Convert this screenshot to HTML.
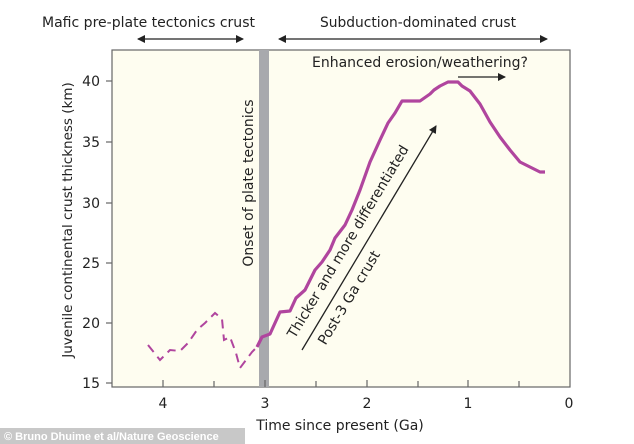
<!DOCTYPE html>
<html><head><meta charset="utf-8"><style>
body{margin:0;background:#fff;}
svg{display:block;font-family:"DejaVu Sans","Liberation Sans",sans-serif;}
</style></head><body>
<svg width="634" height="444" viewBox="0 0 634 444" xmlns="http://www.w3.org/2000/svg">
<defs>
<marker id="ah" markerWidth="8" markerHeight="8" refX="7" refY="4" orient="auto" markerUnits="userSpaceOnUse"><path d="M0,0 L8,4 L0,8 Z" fill="#222"/></marker>
<marker id="at" markerWidth="8" markerHeight="8" refX="1" refY="4" orient="auto" markerUnits="userSpaceOnUse"><path d="M8,0 L0,4 L8,8 Z" fill="#222"/></marker>
</defs>
<rect x="112" y="50" width="458" height="337" fill="#fefdf0" stroke="#666" stroke-width="1.2"/>
<rect x="259" y="50" width="10" height="337" fill="#a8a9ad"/>
<text x="42" y="27" font-size="14" fill="#222" textLength="213" lengthAdjust="spacingAndGlyphs">Mafic pre-plate tectonics crust</text>
<text x="320" y="27" font-size="14" fill="#222" textLength="196" lengthAdjust="spacingAndGlyphs">Subduction-dominated crust</text>
<line x1="138" y1="39" x2="243" y2="39" stroke="#222" stroke-width="1.3" marker-start="url(#at)" marker-end="url(#ah)"/>
<line x1="279" y1="39" x2="547" y2="39" stroke="#222" stroke-width="1.3" marker-start="url(#at)" marker-end="url(#ah)"/>
<text x="312" y="67" font-size="14" fill="#222" textLength="216" lengthAdjust="spacingAndGlyphs">Enhanced erosion/weathering?</text>
<line x1="458" y1="77" x2="505" y2="77" stroke="#222" stroke-width="1.3" marker-end="url(#ah)"/>
<g font-size="14" fill="#222" text-anchor="end">
<text x="100" y="388">15</text><text x="100" y="328">20</text><text x="100" y="268">25</text>
<text x="100" y="208">30</text><text x="100" y="147">35</text><text x="100" y="86">40</text>
</g>
<g stroke="#666" stroke-width="1.2">
<line x1="112" y1="383" x2="106" y2="383"/><line x1="112" y1="323" x2="106" y2="323"/><line x1="112" y1="263" x2="106" y2="263"/>
<line x1="112" y1="203" x2="106" y2="203"/><line x1="112" y1="142" x2="106" y2="142"/><line x1="112" y1="81" x2="106" y2="81"/>
<line x1="163" y1="387" x2="163" y2="380"/><line x1="214" y1="387" x2="214" y2="381"/><line x1="265" y1="387" x2="265" y2="380"/>
<line x1="316" y1="387" x2="316" y2="381"/><line x1="367" y1="387" x2="367" y2="380"/><line x1="418" y1="387" x2="418" y2="381"/>
<line x1="468" y1="387" x2="468" y2="380"/><line x1="519" y1="387" x2="519" y2="381"/>
</g>
<g font-size="14" fill="#222" text-anchor="middle">
<text x="163" y="408">4</text><text x="265" y="408">3</text><text x="367" y="408">2</text><text x="468" y="408">1</text><text x="569" y="408">0</text>
<text x="340" y="430">Time since present (Ga)</text>
</g>
<text transform="translate(72,220) rotate(-90)" font-size="13.5" fill="#222" text-anchor="middle">Juvenile continental crust thickness (km)</text>
<text transform="translate(253,183) rotate(-90)" font-size="14" fill="#222" text-anchor="middle">Onset of plate tectonics</text>
<polyline fill="none" stroke="#b0459e" stroke-width="2" stroke-dasharray="9,6" points="148,345 160,360 170,350 180,351 188,343 197,330 205,323 215,313 222,319 224,340 230,337 236,353 240,368 246,360 252,352 257,347"/>
<polyline fill="none" stroke="#b0459e" stroke-width="3.2" stroke-linejoin="round" points="257,347 262,337 270,334 280,312 290,311 296,298 305,290 310,280 315,270 322,262 330,250 335,238 345,225 352,210 360,190 370,162 380,140 388,123 395,113 402,101 420,101 430,94 434,90 440,86 448,82 458,82 462,86 470,91 480,104 490,122 500,137 510,150 520,162 530,167 540,172 545,172"/>
<line x1="302" y1="350" x2="436" y2="126" stroke="#222" stroke-width="1.3" marker-end="url(#ah)"/>
<text transform="translate(352,244) rotate(-59)" font-size="14" fill="#222" text-anchor="middle">Thicker and more differentiated</text>
<text transform="translate(353,300) rotate(-59)" font-size="14" fill="#222" text-anchor="middle">Post-3 Ga crust</text>
<rect x="0" y="428" width="245" height="16" fill="#c8c8c8"/>
<text x="4" y="440" font-size="11" fill="#fff" font-family="Liberation Sans,sans-serif" font-weight="bold">© Bruno Dhuime et al/Nature Geoscience</text>
</svg>
</body></html>
